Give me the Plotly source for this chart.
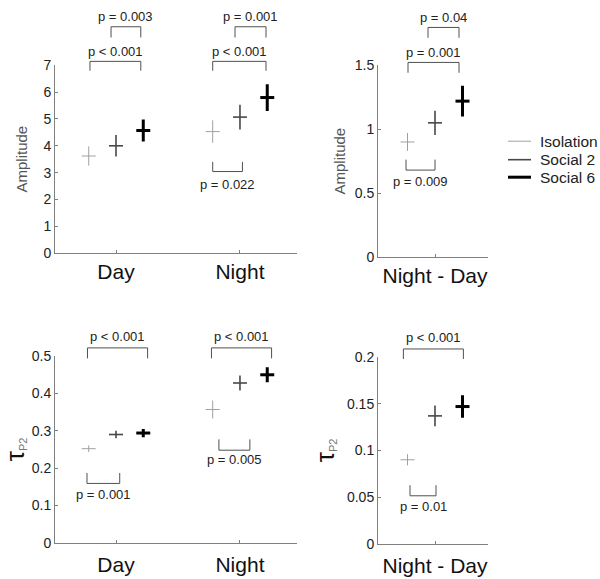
import plotly.graph_objects as go

# ---------------- data ----------------
groups = ["Isolation", "Social 2", "Social 6"]
group_colors = ["#a0a0a0", "#484848", "#000000"]
group_widths = [1, 1.6, 3]
group_offsets = [-0.22, 0.0, 0.22]

periods = ["Day", "Night"]
diff_label = ["Night - Day"]

amp_day = [3.62, 4.00, 4.57]
amp_day_err = [0.36, 0.40, 0.41]
amp_night = [4.53, 5.07, 5.80]
amp_night_err = [0.42, 0.46, 0.50]
amp_diff = [0.90, 1.05, 1.22]
amp_diff_err = [0.07, 0.095, 0.12]

tau_day = [0.252, 0.290, 0.294]
tau_day_err = [0.009, 0.010, 0.011]
tau_night = [0.357, 0.428, 0.450]
tau_night_err = [0.024, 0.020, 0.020]
tau_diff = [0.090, 0.137, 0.147]
tau_diff_err = [0.006, 0.011, 0.012]

amp_ticks = [0, 1, 2, 3, 4, 5, 6, 7]
amp_diff_ticks = [0, 0.5, 1, 1.5]
tau_ticks = [0, 0.1, 0.2, 0.3, 0.4, 0.5]
tau_diff_ticks = [0, 0.05, 0.1, 0.15, 0.2]

# brackets: (x1, x2, y_bar, y_leg, label, y_text)
br_amp = [
    (0.79, 1.20, 7.15, 6.80, "p < 0.001", 7.52),
    (0.96, 1.20, 8.44, 8.04, "p = 0.003", 8.84),
    (1.78, 2.21, 7.15, 6.80, "p < 0.001", 7.52),
    (1.96, 2.21, 8.44, 8.04, "p = 0.001", 8.84),
    (1.78, 2.02, 3.04, 3.40, "p = 0.022", 2.54),
]
br_amp_diff = [
    (0.784, 1.192, 1.523, 1.442, "p = 0.001", 1.60),
    (0.944, 1.192, 1.797, 1.716, "p = 0.04", 1.873),
    (0.768, 1.00, 0.680, 0.762, "p = 0.009", 0.594),
]
br_tau = [
    (0.77, 1.255, 0.522, 0.494, "p < 0.001", 0.553),
    (1.77, 2.255, 0.522, 0.494, "p < 0.001", 0.553),
    (0.766, 1.03, 0.159, 0.187, "p = 0.001", 0.130),
    (1.83, 2.08, 0.248, 0.277, "p = 0.005", 0.224),
]
br_tau_diff = [
    (0.747, 1.227, 0.2087, 0.198, "p < 0.001", 0.2205),
    (0.80, 1.008, 0.0514, 0.0628, "p = 0.01", 0.040),
]

W, H = 600, 579
AXC = "#808080"
BRC = "#505050"
FONT = "Arial, Liberation Sans, sans-serif"

fig = go.Figure()

panels = [
    ("x", "y", [(amp_day, amp_day_err), (amp_night, amp_night_err)], [1, 2]),
    ("x2", "y2", [(amp_diff, amp_diff_err)], [1]),
    ("x3", "y3", [(tau_day, tau_day_err), (tau_night, tau_night_err)], [1, 2]),
    ("x4", "y4", [(tau_diff, tau_diff_err)], [1]),
]

for xa, ya, series, cats in panels:
    for g in range(3):
        xs = [c + group_offsets[g] for c in cats]
        ys = [s[0][g] for s in series]
        es = [s[1][g] for s in series]
        fig.add_trace(go.Scatter(
            x=xs, y=ys, xaxis=xa, yaxis=ya, mode="markers", name=groups[g],
            showlegend=False,
            marker=dict(symbol="line-ew", size=10, color=group_colors[g],
                        line=dict(width=group_widths[g], color=group_colors[g])),
            error_y=dict(type="data", array=es, visible=True, width=0,
                         thickness=group_widths[g], color=group_colors[g]),
            cliponaxis=False,
        ))

shapes = []
annotations = []
ya_from_x = {"x": "y", "x2": "y2", "x3": "y3", "x4": "y4"}


def add_brackets(brs, xa, ymax):
    yd = ya_from_x[xa]
    for x1, x2, yb, yl, label, yt in brs:
        for (a0, b0, a1, b1) in [(x1, yl, x1, yb), (x1, yb, x2, yb), (x2, yb, x2, yl)]:
            shapes.append(dict(type="line", xref=xa, yref=yd + " domain",
                               x0=a0, y0=b0 / ymax, x1=a1, y1=b1 / ymax,
                               line=dict(color=BRC, width=1)))
        annotations.append(dict(text=label, xref=xa, yref=yd + " domain",
                                x=(x1 + x2) / 2, y=yt / ymax, showarrow=False,
                                font=dict(size=13, color="#222222", family=FONT),
                                xanchor="center", yanchor="middle"))


add_brackets(br_amp, "x", 7)
add_brackets(br_amp_diff, "x2", 1.5)
add_brackets(br_tau, "x3", 0.5)
add_brackets(br_tau_diff, "x4", 0.2)

# legend drawn manually
leg_y = [137, 156, 174]
for g in range(3):
    yy = 1 - leg_y[g] / H
    shapes.append(dict(type="line", xref="paper", yref="paper",
                       x0=508 / W, x1=531 / W, y0=yy, y1=yy,
                       line=dict(color=group_colors[g], width=group_widths[g])))
    annotations.append(dict(text=groups[g], xref="paper", yref="paper",
                            x=538 / W, y=yy, xanchor="left", yanchor="middle",
                            showarrow=False,
                            font=dict(size=15.5, color="#222222", family=FONT)))


def fmt(v):
    return "%g" % v


def xax(domain, rng, vals, texts):
    return dict(domain=domain, range=rng, tickvals=vals, ticktext=texts,
                showline=True, linecolor=AXC, linewidth=1, ticks="inside",
                ticklen=3, tickcolor=AXC, showgrid=False, zeroline=False,
                tickfont=dict(size=21, color="#111111", family=FONT), fixedrange=True)


def yax(domain, rng, vals, anchor, title, standoff):
    return dict(domain=domain, range=rng, tickvals=vals, ticktext=[fmt(v) for v in vals],
                showline=True, linecolor=AXC, linewidth=1, ticks="inside",
                ticklen=3, tickcolor=AXC, showgrid=False, zeroline=False,
                anchor=anchor,
                tickfont=dict(size=14, color="#222222", family=FONT),
                title=dict(text=title, standoff=standoff,
                           font=dict(size=15, color="#555555", family=FONT)),
                fixedrange=True)


amp_title = "Amplitude"
tau_title = "<span style='font-size:26px;color:#111111'>τ</span><sub><span style='font-size:11px;color:#777777'>P2</span></sub>"

d_x_left = [55 / W, 297 / W]
d_x_right = [378 / W, 488 / W]

fig.update_layout(
    width=W, height=H, margin=dict(l=0, r=0, t=0, b=0),
    paper_bgcolor="white", plot_bgcolor="white", showlegend=False,
    font=dict(family=FONT),
    xaxis=dict(xax(d_x_left, [0.508, 2.46], [1, 2], periods), anchor="y"),
    yaxis=yax([1 - 252 / H, 1 - 59 / H], [0, 7], amp_ticks, "x", amp_title, 12),
    xaxis2=dict(xax(d_x_right, [0.544, 1.424], [1], diff_label), anchor="y2"),
    yaxis2=yax([1 - 256 / H, 1 - 59 / H], [0, 1.5], amp_diff_ticks, "x2", amp_title, 5),
    xaxis3=dict(xax(d_x_left, [0.508, 2.46], [1, 2], periods), anchor="y3",
                ticklabelstandoff=3),
    yaxis3=yax([1 - 550 / H, 1 - 358 / H], [0, 0.5], tau_ticks, "x3", tau_title, 11),
    xaxis4=dict(xax(d_x_right, [0.544, 1.424], [1], diff_label), anchor="y4",
                ticklabelstandoff=3),
    yaxis4=yax([1 - 551 / H, 1 - 359 / H], [0, 0.2], tau_diff_ticks, "x4", tau_title, 8),
    shapes=shapes, annotations=annotations,
)

fig.write_html(
    "out.html",
    config={"displayModeBar": False},
    post_script="document.body.style.margin='0';document.body.style.overflow='hidden';",
)
